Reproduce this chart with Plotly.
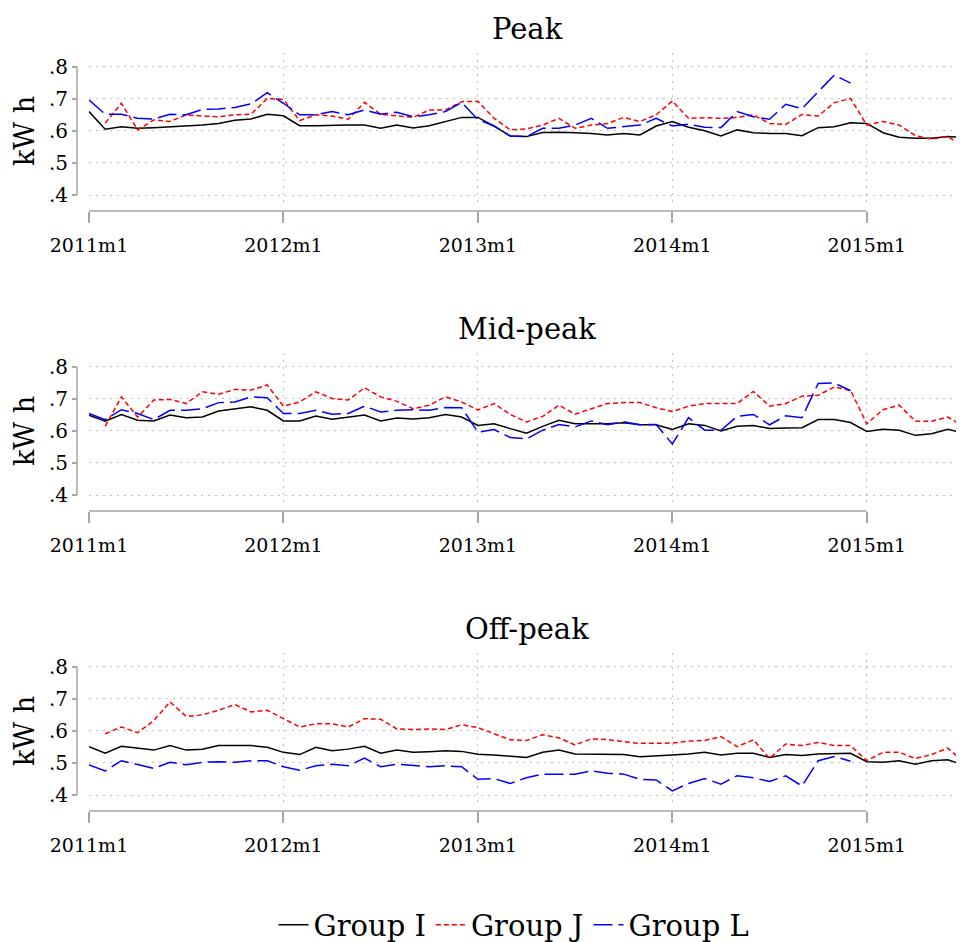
import plotly.graph_objects as go
from plotly.subplots import make_subplots

# month axis: 2011m1 .. 2015m7
months = [f"{y}m{m}" for y in range(2011, 2016) for m in range(1, 13)][:55]
x_idx = list(range(len(months)))

x_tickvals = [0, 12, 24, 36, 48]
x_ticktext = ["2011m1", "2012m1", "2013m1", "2014m1", "2015m1"]
y_tickvals = [0.4, 0.5, 0.6, 0.7, 0.8]
y_ticktext = [".4", ".5", ".6", ".7", ".8"]

panel_titles = ["Peak", "Mid-peak", "Off-peak"]
group_names = ["Group I", "Group J", "Group L"]

N = None

peak_I = [.660, .605, .613, .608, .610, .613, .614, .618, .623, .633, .637, .652,
          .647, .616, .616, .618, .618, .618, .608, .618, .609, .616, .629, .642,
          .642, .615, .584, .582, .595, .596, .594, .592, .587, .592, .587, .615,
          .629, .611, .600, .584, .603, .594, .592, .592, .585, .610, .613, .625,
          .623, .594, .580, .577, .577, .582, .579]
peak_J = [N, .624, .686, .603, .634, .629, .650, .646, .644, .650, .652, .701,
          .698, .632, .650, .646, .636, .689, .652, .647, .642, .665, .665, .691,
          .692, .639, .603, .606, .618, .639, .608, .618, .623, .642, .629, .650,
          .693, .639, .641, .639, .642, .650, .623, .620, .651, .646, .688, .701,
          .618, .629, .618, .585, .574, .582, .550]
peak_L = [.696, .652, .652, .639, .637, .652, .650, .667, .668, .673, .684, .719,
          .686, .650, .650, .660, .650, .665, .652, .658, .644, .650, .660, .689,
          .635, .615, .584, .582, .608, .608, .618, .639, .608, .613, .618, .639,
          .615, .621, .611, .610, .660, .644, .636, .683, .669, .722, .774, .749,
          N, N, N, N, N, N, N]

mid_I = [.649, .630, .651, .633, .631, .649, .641, .643, .662, .669, .675, .664,
         .631, .631, .646, .636, .643, .649, .631, .640, .637, .641, .651, .643,
         .617, .622, .607, .593, .614, .633, .622, .622, .622, .625, .619, .619,
         .604, .622, .617, .600, .614, .617, .607, .609, .610, .635, .635, .626,
         .598, .605, .602, .586, .591, .605, .593]
mid_J = [N, .614, .706, .643, .696, .698, .685, .722, .714, .729, .727, .743,
         .677, .690, .722, .701, .696, .734, .706, .692, .669, .680, .706, .690,
         .665, .685, .651, .628, .645, .680, .652, .669, .685, .688, .688, .672,
         .660, .677, .685, .685, .685, .723, .677, .685, .708, .711, .737, .726,
         .622, .666, .680, .630, .630, .643, .614]
mid_L = [.654, .635, .666, .654, .635, .664, .664, .669, .688, .690, .706, .703,
         .654, .654, .664, .652, .654, .677, .659, .664, .666, .664, .673, .672,
         .596, .604, .579, .575, .602, .620, .612, .631, .619, .628, .619, .620,
         .559, .641, .602, .602, .645, .651, .619, .647, .641, .748, .749, .725,
         N, N, N, N, N, N, N]

off_I = [.551, .530, .552, .546, .540, .554, .540, .543, .554, .554, .554, .549,
         .533, .526, .549, .538, .543, .552, .530, .540, .533, .535, .538, .536,
         .527, .525, .520, .517, .533, .540, .528, .528, .528, .526, .519, .523,
         .525, .528, .533, .525, .530, .530, .517, .526, .523, .528, .530, .530,
         .504, .502, .507, .496, .507, .510, .493]
off_J = [N, .591, .612, .594, .632, .690, .645, .650, .664, .682, .659, .664,
         .638, .612, .622, .622, .612, .638, .636, .606, .604, .606, .604, .619,
         .610, .591, .572, .570, .588, .578, .556, .575, .573, .566, .561, .561,
         .562, .568, .570, .582, .551, .572, .514, .559, .554, .564, .554, .554,
         .507, .533, .533, .514, .526, .546, .502]
off_L = [.494, .475, .507, .494, .483, .502, .494, .502, .504, .502, .507, .507,
         .488, .477, .491, .496, .491, .515, .488, .496, .491, .488, .491, .488,
         .449, .451, .436, .454, .465, .465, .465, .475, .468, .465, .449, .447,
         .413, .436, .451, .434, .460, .454, .442, .460, .428, .507, .520, .505,
         N, N, N, N, N, N, N]

panels = [[peak_I, peak_J, peak_L], [mid_I, mid_J, mid_L], [off_I, off_J, off_L]]

line_styles = [dict(color="#000000", width=1.5),
               dict(color="#ff0000", width=1.5, dash="5px,3px"),
               dict(color="#0000ff", width=1.5, dash="19px,6px")]

# the page body has an 8px margin, so the figure is 8px smaller than the window
W, H = 956, 934
FONT = "DejaVu Serif"
AXIS_GREY = "#a6a6a6"
GRID_GREY = "#c2c2c2"

fig = make_subplots(rows=3, cols=1)

for p, series in enumerate(panels):
    for g, vals in enumerate(series):
        fig.add_trace(go.Scatter(x=x_idx, y=vals, mode="lines", name=group_names[g],
                                 line=line_styles[g], legendgroup=group_names[g],
                                 showlegend=(p == 0), connectgaps=False,
                                 hoverinfo="skip"),
                      row=p + 1, col=1)

x_left = 81 / W
yaxis_pos = 69 / W
shapes = []
annotations = []
for p in range(3):
    top = 45 + 300 * p
    bottom = 199 + 300 * p
    xline = 203 + 300 * p
    sfx = "" if p == 0 else str(p + 1)
    fig.layout["xaxis" + sfx].update(
        domain=[x_left, 1], range=[0, 54], anchor="free", position=1 - xline / H,
        tickvals=x_tickvals, ticktext=x_ticktext, ticks="outside", ticklen=11,
        tickwidth=1.5, tickcolor=AXIS_GREY, showline=False, zeroline=False,
        showgrid=True, gridcolor=GRID_GREY, griddash="2px,5px", gridwidth=1,
        ticklabelstandoff=6,
        tickfont=dict(family=FONT, size=19, color="black"), automargin=False)
    fig.layout["yaxis" + sfx].update(
        domain=[1 - bottom / H, 1 - top / H], range=[0.3626, 0.8427],
        anchor="free", position=yaxis_pos,
        tickvals=y_tickvals, ticktext=y_ticktext, ticks="outside", ticklen=5,
        tickwidth=1.5, tickcolor=AXIS_GREY, showline=False, zeroline=False,
        showgrid=True, gridcolor=GRID_GREY, griddash="2px,5px", gridwidth=1,
        tickfont=dict(family=FONT, size=20, color="black"), automargin=False)
    # axis lines only over the tick range
    shapes.append(dict(type="line", xref="paper", yref="y" + sfx,
                       x0=yaxis_pos, x1=yaxis_pos, y0=min(y_tickvals), y1=max(y_tickvals),
                       line=dict(color=AXIS_GREY, width=1.5)))
    shapes.append(dict(type="line", xref="x" + sfx, yref="paper",
                       x0=min(x_tickvals), x1=max(x_tickvals), y0=1 - xline / H, y1=1 - xline / H,
                       line=dict(color=AXIS_GREY, width=1.5)))
    annotations.append(dict(text=panel_titles[p], xref="paper", yref="paper",
                            x=519 / W, y=1 - (21 + 300 * p) / H, xanchor="center",
                            yanchor="middle", showarrow=False,
                            font=dict(family=FONT, size=29, color="black")))
    annotations.append(dict(text="kW h", xref="paper", yref="paper", textangle=-90,
                            x=16 / W, y=1 - (123 + 300 * p) / H, xanchor="center",
                            yanchor="middle", showarrow=False,
                            font=dict(family=FONT, size=27, color="black")))

fig.update_layout(
    width=W, height=H, margin=dict(l=0, r=0, t=0, b=0, autoexpand=False),
    paper_bgcolor="white", plot_bgcolor="white",
    shapes=shapes, annotations=annotations,
    font=dict(family=FONT, color="black"),
    legend=dict(orientation="h", x=506 / W, xanchor="center", y=1 - 917 / H,
                yanchor="middle", font=dict(family=FONT, size=29, color="black"),
                itemwidth=30, bgcolor="rgba(0,0,0,0)"),
)

fig.write_html("out.html")
